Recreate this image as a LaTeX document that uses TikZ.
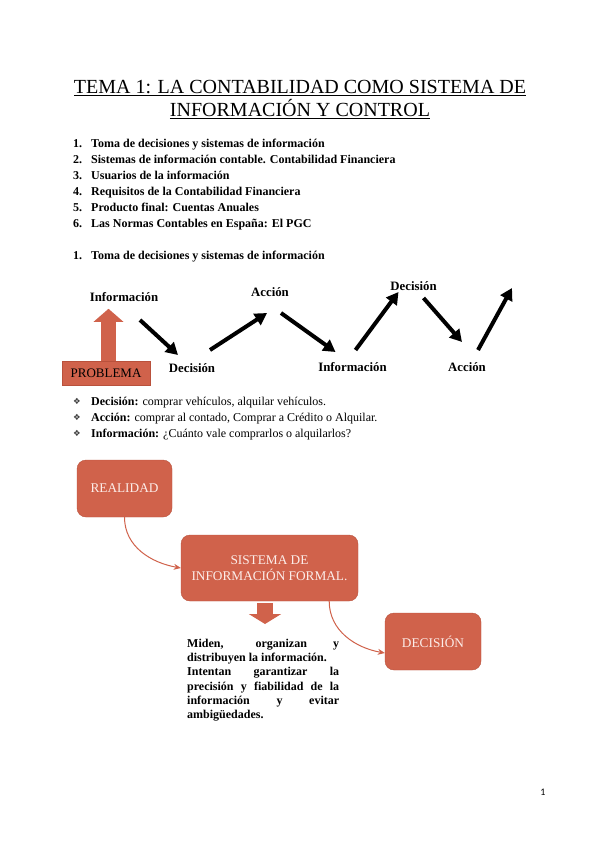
\documentclass[tikz,border=0pt]{standalone}
\usepackage{fontspec}
\setmainfont{Liberation Serif}
\newfontfamily\symfont{DejaVu Sans}
\newfontfamily\pagefont{Carlito}
\usepackage{tikz}
\usetikzlibrary{arrows.meta,positioning}
\definecolor{boxred}{HTML}{D0624B}
\definecolor{boxedge}{HTML}{B9513C}
\definecolor{boxtext}{HTML}{FCEDE9}

\begin{document}
\begin{tikzpicture}[x=1pt,y=-1pt,
    flowlabel/.style={font=\fontsize{12.8}{14}\selectfont\bfseries, inner sep=2pt},
    flow/.style={line width=4pt, -{Triangle[length=12pt,width=13pt]}},
    redbox/.style={draw=boxedge, fill=boxred, rounded corners=9pt, text=boxtext, align=center, font=\fontsize{13.3}{16}\selectfont},
    curvearrow/.style={boxred, line width=1pt, -{Stealth[length=7pt,width=6pt]}}]
    \fill[white] (0,0) rectangle (599,848);
    \useasboundingbox (0,0) rectangle (599,848);

    % Title
    \node[font=\fontsize{20}{23}\selectfont, anchor=base] (title1) at (300,94) {\underline{TEMA 1: LA CONTABILIDAD COMO SISTEMA DE}};
    \node[font=\fontsize{20}{23}\selectfont, anchor=base] (title2) at (300,117) {\underline{INFORMACIÓN Y CONTROL}};

    % Contents
    \foreach \i/\txt in {1/Toma de decisiones y sistemas de información, 2/Sistemas de información contable. Contabilidad Financiera, 3/Usuarios de la información, 4/Requisitos de la Contabilidad Financiera, 5/Producto final: Cuentas Anuales, 6/Las Normas Contables en España: El PGC} {
        \node[font=\fontsize{12}{14}\selectfont\bfseries, anchor=base west, inner sep=0pt] (num\i) at (73,131+16*\i) {\i.};
        \node[font=\fontsize{12}{14}\selectfont\bfseries, anchor=base west, inner sep=0pt] (item\i) at (91,131+16*\i) {\txt};
    }
    \node[font=\fontsize{12}{14}\selectfont\bfseries, anchor=base west, inner sep=0pt] (headnum) at (73,259) {1.};
    \node[font=\fontsize{12}{14}\selectfont\bfseries, anchor=base west, inner sep=0pt] (head) at (91,259) {Toma de decisiones y sistemas de información};

    % Decision cycle
    \node[flowlabel] (infoA) at (124,297) {Información};
    \node[flowlabel] (decA) at (192,368) {Decisión};
    \node[flowlabel] (accA) at (270,292) {Acción};
    \node[flowlabel] (infoB) at (352.5,367) {Información};
    \node[flowlabel] (decB) at (413.5,286) {Decisión};
    \node[flowlabel] (accB) at (467,367) {Acción};
    \coordinate (flowend) at (512,288);
    \foreach \a/\as/\b/\bs in {infoA/{16,23}/decA/{-14,-13}, decA/{18,-18}/accA/{-3,21}, accA/{11,21}/infoB/{-17,-15}, infoB/{3,-17}/decB/{-15,6}, decB/{10,12}/accB/{-5,-25}, accB/{11,-17}/flowend/{0,0}}
        \draw[flow] ([shift={(\as)}]\a.center) -- ([shift={(\bs)}]\b.center);

    % Problem
    \node[draw=boxedge, fill=boxred, text=black, minimum width=88pt, minimum height=24pt, inner sep=0pt, font=\fontsize{13}{15}\selectfont] (problema) at (106,373) {PROBLEMA};
    \draw[boxred, line width=15pt, -{Triangle[length=13pt,width=29pt]}, shorten >=5pt] ([xshift=2.5pt]problema.north) -- ([xshift=2.5pt]problema.north |- infoA.south);

    % Examples
    \foreach \j/\lab/\txt in {0/Decisión:/{comprar vehículos, alquilar vehículos.}, 1/Acción:/{comprar al contado, Comprar a Crédito o Alquilar.}, 2/Información:/{¿Cuánto vale comprarlos o alquilarlos?}} {
        \node[font=\symfont\fontsize{8.5}{10}\selectfont, text=black!75, inner sep=0pt] (mark\j) at (77,401+16*\j) {❖};
        \node[font=\fontsize{12}{14}\selectfont, anchor=base west, inner sep=0pt] (bul\j) at (91,405+16*\j) {\textbf{\lab} \txt};
    }

    % Information system
    \node[redbox, minimum width=95pt, minimum height=57pt] (realidad) at (124.5,488.5) {REALIDAD};
    \node[redbox, minimum width=177pt, minimum height=66pt] (sistema) at (269.5,568) {SISTEMA DE\\INFORMACIÓN FORMAL.};
    \node[redbox, minimum width=96pt, minimum height=57pt] (decision) at (433,641.5) {DECISIÓN};
    \node[anchor=north west, align=left, inner sep=0pt, font=\fontsize{12}{14.2}\selectfont\bfseries] (miden) at (187,639) {\makebox[152pt][s]{Miden, organizan y}\\distribuyen la información.\\\makebox[152pt][s]{Intentan garantizar la}\\\makebox[152pt][s]{precisión y fiabilidad de la}\\\makebox[152pt][s]{información y evitar}\\ambigüedades.};

    \draw[curvearrow] (realidad.south) to[out=-90,in=170] (sistema.west);
    \draw[curvearrow] ([xshift=-29pt]sistema.south east) to[out=-90,in=170] ([yshift=-11.5pt]decision.west);
    \draw[boxred, line width=16pt, -{Triangle[length=10pt,width=32pt]}, shorten <=2pt, shorten >=15pt] ([xshift=-4.5pt]sistema.south) -- ([xshift=-4.5pt]sistema.south |- miden.north);

    % Page number
    \node[font=\pagefont\fontsize{10}{12}\selectfont] (pagenum) at (543,792) {1};
\end{tikzpicture}
\end{document}
